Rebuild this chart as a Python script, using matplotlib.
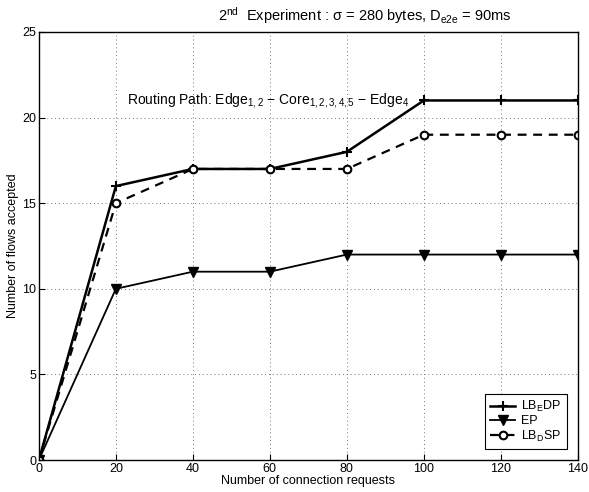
import matplotlib
matplotlib.use("Agg")
import matplotlib.pyplot as plt

plt.rcParams['font.family'] = ['Liberation Sans', 'DejaVu Sans']
plt.rcParams['mathtext.fontset'] = 'custom'
plt.rcParams['mathtext.rm'] = 'Liberation Sans'
plt.rcParams['mathtext.it'] = 'Liberation Sans'

# data
requests = [0, 20, 40, 60, 80, 100, 120, 140]
lbe_dp = [0, 16, 17, 17, 18, 21, 21, 21]
ep = [0, 10, 11, 11, 12, 12, 12, 12]
lbd_sp = [0, 15, 17, 17, 17, 19, 19, 19]

fig = plt.figure(figsize=(5.89, 4.92), dpi=100)
ax = fig.add_axes([0.066, 0.065, 0.915, 0.87])

ax.plot(requests, lbe_dp, color='black', lw=1.8, marker='+', ms=7, mew=1.5,
        label=r'LB$_\mathrm{E}$DP')
ax.plot(requests, ep, color='black', lw=1.3, marker='v', ms=7,
        label='EP')
ax.plot(requests, lbd_sp, color='black', lw=1.6, ls='--', dashes=(4, 3),
        marker='o', ms=5.5, mew=1.5, mfc='white', label=r'LB$_\mathrm{D}$SP')

ax.set_xlim(0, 140)
ax.set_ylim(0, 25)
ax.set_xticks(range(0, 141, 20))
ax.set_yticks(range(0, 26, 5))
ax.grid(True, ls=(0, (1, 3)), color='#777777', lw=0.7)
ax.tick_params(direction='in', labelsize=9, pad=2, length=4)
for s in ax.spines.values():
    s.set_linewidth(1)

ax.set_xlabel('Number of connection requests', fontsize=9, labelpad=0)
ax.set_ylabel('Number of flows accepted', fontsize=9, labelpad=2)
ax.set_title(r'2$^\mathrm{nd}$  Experiment : $\sigma$ = 280 bytes, D$_\mathrm{e2e}$ = 90ms',
             fontsize=10.5, pad=8, x=0.605)
ax.text(23, 21.0, r'Routing Path: Edge$_\mathrm{1,2}$ $-$ Core$_\mathrm{1,2,3,4,5}$ $-$ Edge$_\mathrm{4}$',
        fontsize=10, va='center')

leg = ax.legend(loc='lower right', fontsize=9, frameon=True, fancybox=False,
                edgecolor='black', framealpha=1, handlelength=2.0,
                labelspacing=0.1, borderpad=0.4, borderaxespad=0.9,
                handletextpad=0.5)
leg.get_frame().set_linewidth(0.8)

fig.savefig('out.png', dpi=100)
